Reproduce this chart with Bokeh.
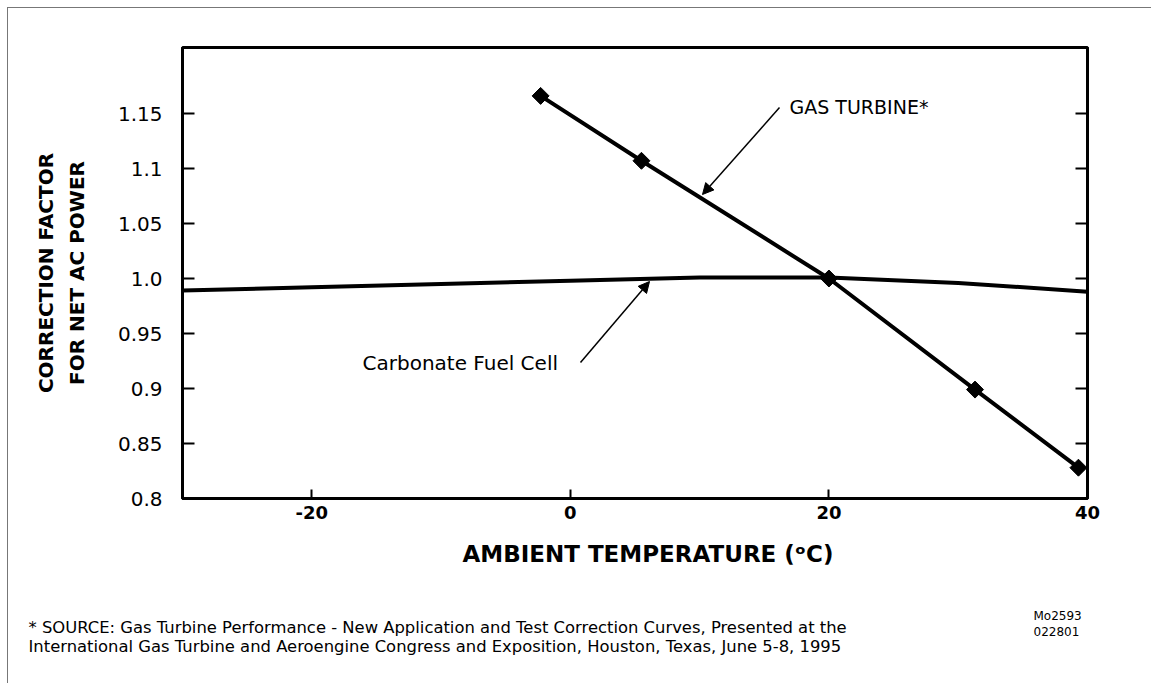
from bokeh.plotting import figure
from bokeh.models import LinearAxis, FixedTicker, Label, Arrow, NormalHead, Range1d, Title
from bokeh.embed import file_html
from bokeh.resources import INLINE

# ---- data ----
gas_temp = [-2.3, 5.5, 20.0, 31.3, 39.3]
gas_factor = [1.166, 1.107, 1.000, 0.899, 0.828]

fuel_temp = [-30, -20, -10, 0, 10, 20, 30, 40]
fuel_factor = [0.989, 0.992, 0.995, 0.998, 1.001, 1.001, 0.996, 0.988]

x_ticks = [-20, 0, 20, 40]
x_tick_labels = ["-20", "0", "20", "40"]
y_ticks = [0.8, 0.85, 0.9, 0.95, 1.0, 1.05, 1.1, 1.15]
y_tick_labels = ["0.8", "0.85", "0.9", "0.95", "1.0", "1.05", "1.1", "1.15"]

X0, X1 = -30, 40
Y0, Y1 = 0.8, 1.21

# frame geometry in page pixels (canvas starts at page pixel 8)
FL, FR, FT, FB = 182, 1087, 47, 498
W, H = 1143, 674


def dx(px):
    return X0 + (px - FL) * (X1 - X0) / (FR - FL)


def dy(py):
    return Y0 + (FB - py) * (Y1 - Y0) / (FB - FT)


SANS = "DejaVu Sans"

p = figure(frame_width=FR - FL, frame_height=FB - FT,
           min_border_left=FL - 8, min_border_top=FT - 8,
           min_border_right=W - (FR - 8), min_border_bottom=H - (FB - 8),
           x_range=Range1d(X0, X1), y_range=Range1d(Y0, Y1),
           x_axis_type=None, y_axis_type=None,
           output_backend="svg", toolbar_location=None)
p.background_fill_color = "white"
p.border_fill_color = "white"
p.outline_line_color = "black"
p.outline_line_width = 3
p.styles = {"margin-left": "7px", "margin-top": "7px",
            "border-left": "1px solid #777", "border-top": "1px solid #777"}

xa = LinearAxis(ticker=FixedTicker(ticks=x_ticks),
                major_label_overrides=dict(zip(x_ticks, x_tick_labels)))
ya = LinearAxis(ticker=FixedTicker(ticks=y_ticks),
                major_label_overrides=dict(zip(y_ticks, y_tick_labels)))
yr = LinearAxis(ticker=FixedTicker(ticks=y_ticks))
for ax in (xa, ya, yr):
    ax.axis_line_width = 3
    ax.axis_line_color = "black"
    ax.major_tick_in = 12
    ax.major_tick_out = 0
    ax.major_tick_line_width = 2
    ax.major_tick_line_color = "black"
    ax.minor_tick_line_color = None
    ax.major_label_text_color = "black"
xa.major_tick_in = 9
xa.major_label_text_font = SANS
xa.major_label_text_font_size = "18px"
xa.major_label_text_font_style = "bold"
xa.major_label_standoff = 7
ya.major_label_text_font = SANS
ya.major_label_text_font_size = "20px"
ya.major_label_standoff = 20
ya.axis_label = "CORRECTION FACTOR\nFOR NET AC POWER"
ya.axis_label_text_font = SANS
ya.axis_label_text_font_size = "20px"
ya.axis_label_text_font_style = "bold"
ya.axis_label_text_color = "black"
ya.axis_label_text_line_height = 1.28
ya.axis_label_standoff = 26
yr.major_label_text_font_size = "0px"
yr.major_label_text_alpha = 0
p.add_layout(xa, "below")
p.add_layout(ya, "left")
p.add_layout(yr, "right")

# x axis title and footnotes, stacked under the axis
p.add_layout(Title(text="AMBIENT TEMPERATURE (\u1d52C)", align="left", offset=462 - FL,
                   vertical_align="top", standoff=38,
                   text_font=SANS, text_font_size="23px", text_font_style="bold",
                   text_color="black"), "below")
p.add_layout(Title(text="* SOURCE: Gas Turbine Performance - New Application and Test Correction Curves, Presented at the\n"
                        "International Gas Turbine and Aeroengine Congress and Exposition, Houston, Texas, June 5-8, 1995",
                   align="left", offset=28 - FL, vertical_align="top", standoff=60,
                   text_font=SANS, text_font_size="16.4px", text_font_style="normal",
                   text_line_height=1.05, text_color="black"), "below")
p.add_layout(Title(text="Mo2593\n022801", align="left", offset=1033 - FL,
                   vertical_align="top", standoff=-159,
                   text_font=SANS, text_font_size="12px", text_font_style="normal",
                   text_line_height=1.15, text_color="black"), "below")

# series
p.line(fuel_temp, fuel_factor, line_width=4, line_color="black")
p.line(gas_temp, gas_factor, line_width=4, line_color="black")
p.scatter(gas_temp, gas_factor, marker="square", angle=0.785398, size=12,
          fill_color="black", line_color="black")

# annotations inside the plot area
head = dict(size=11, fill_color="black", line_color="black", line_width=1)
p.add_layout(Arrow(end=NormalHead(**head), x_start=dx(779), y_start=dy(107),
                   x_end=dx(702), y_end=dy(194), line_width=1.5, line_color="black"))
p.add_layout(Arrow(end=NormalHead(**head), x_start=dx(580), y_start=dy(362),
                   x_end=dx(649), y_end=dy(281), line_width=1.5, line_color="black"))

p.add_layout(Label(x=dx(789), y=dy(106), text="GAS TURBINE*", text_font=SANS,
                   text_font_size="19px", text_baseline="middle", text_align="left",
                   text_color="black"))
p.add_layout(Label(x=dx(362), y=dy(362), text="Carbonate Fuel Cell", text_font=SANS,
                   text_font_size="20px", text_baseline="middle", text_align="left",
                   text_color="black"))

open("out.html", "w").write(file_html(p, INLINE))
